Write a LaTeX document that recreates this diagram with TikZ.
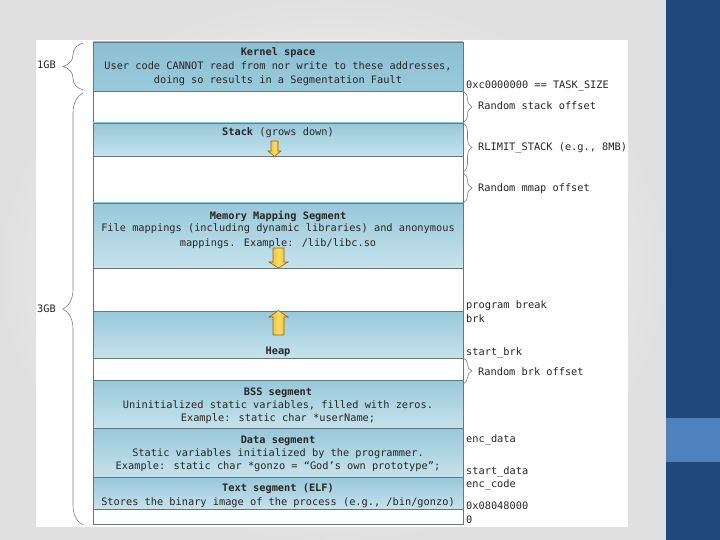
\documentclass[tikz,border=0pt]{standalone}
\usepackage{fontspec}
\newfontfamily\mono{DejaVu Sans Mono}
\usetikzlibrary{decorations.pathreplacing}
\definecolor{slideblue}{HTML}{1F497D}
\definecolor{slidelight}{HTML}{4F81BD}
\definecolor{segtop}{HTML}{98C8DA}
\definecolor{segbot}{HTML}{C6E2EC}
\definecolor{kertop}{HTML}{8BBFD3}
\definecolor{kerbot}{HTML}{9ACADB}
\definecolor{segline}{HTML}{66777D}
\definecolor{arrowfill}{HTML}{F0B010}
\definecolor{arrowlight}{HTML}{FFDC66}
\definecolor{arrowline}{HTML}{8A6A1C}
\tikzset{
  lbl/.style={font=\mono\fontsize{10.3}{13}\selectfont, inner sep=0pt, text=black!85},
  seg/.style={draw=segline, line width=0.8pt, top color=segtop, bottom color=segbot},
  gap/.style={draw=segline, line width=0.8pt, fill=white},
  growarrow/.style={draw=arrowline, line width=0.6pt, left color=arrowfill, right color=arrowfill, middle color=arrowlight},
  bracel/.style={draw=black!50, line width=0.6pt, decorate, decoration={brace, amplitude=20pt}},
  bracer/.style={draw=black!50, line width=0.6pt, decorate, decoration={brace, amplitude=9pt}}
}
\begin{document}
\begin{tikzpicture}[x=1pt,y=-1pt]
\useasboundingbox (0,0) rectangle (720,540);
% slide background
\shade[inner color=white, outer color=black!12] (0,0) rectangle (666,540);
\fill[slideblue] (666,0) rectangle (720,540);
\fill[slidelight] (666,418) rectangle (720,462);
% picture area
\fill[white] (36,40) rectangle (628,527);
% segments
\shade[draw=segline, line width=0.8pt, top color=kertop, bottom color=kerbot] (93,42) rectangle (463,91);
\draw[gap] (93,91) rectangle (463,123);
\draw[seg] (93,123) rectangle (463,156);
\draw[gap] (93,156) rectangle (463,203);
\draw[seg] (93,203) rectangle (463,268);
\draw[gap] (93,268) rectangle (463,311);
\draw[seg] (93,311) rectangle (463,358);
\draw[gap] (93,358) rectangle (463,380);
\draw[seg] (93,380) rectangle (463,428);
\draw[seg] (93,428) rectangle (463,477);
\draw[seg] (93,477) rectangle (463,509);
\draw[gap] (93,509) rectangle (463,524);
% growth arrows
\draw[growarrow] (271,141) -- (278,141) -- (278,151) -- (281,151) -- (274.5,156.5) -- (268,151) -- (271,151) -- cycle;
\draw[growarrow] (273,248) -- (284,248) -- (284,262) -- (288,262) -- (278.5,268) -- (269,262) -- (273,262) -- cycle;
\draw[growarrow] (273,335) -- (284,335) -- (284,317) -- (288,317) -- (278.5,310.5) -- (269,317) -- (273,317) -- cycle;
% segment texts
\node[lbl, anchor=base] (kt) at (278,56) {\textbf{Kernel space}};
\node[lbl, anchor=base] (k1) at (278,70) {User code CANNOT read from nor write to these addresses,};
\node[lbl, anchor=base] (k2) at (278,84) {doing so results in a Segmentation Fault};
\node[lbl, anchor=base] (st) at (278,136) {\textbf{Stack} (grows down)};
\node[lbl, anchor=base] (mt) at (278,219) {\textbf{Memory Mapping Segment}};
\node[lbl, anchor=base] (m1) at (278,232) {File mappings (including dynamic libraries) and anonymous};
\node[lbl, anchor=base] (m2) at (278,246) {mappings. Example: /lib/libc.so};
\node[lbl, anchor=base] (ht) at (278,354) {\textbf{Heap}};
\node[lbl, anchor=base] (bt) at (278,395) {\textbf{BSS segment}};
\node[lbl, anchor=base] (b1) at (278,408) {Uninitialized static variables, filled with zeros.};
\node[lbl, anchor=base] (b2) at (278,421) {Example: static char *userName;};
\node[lbl, anchor=base] (dt) at (278,443) {\textbf{Data segment}};
\node[lbl, anchor=base] (d1) at (278,456) {Static variables initialized by the programmer.};
\node[lbl, anchor=base] (d2) at (278,469) {Example: static char *gonzo = “God’s own prototype”;};
\node[lbl, anchor=base] (tt) at (278,491) {\textbf{Text segment (ELF)}};
\node[lbl, anchor=base] (t1) at (278,505) {Stores the binary image of the process (e.g., /bin/gonzo)};
% left braces
\draw[bracel] (83,90) -- (83,43);
\draw[bracel] (83,525) -- (83,93);
\node[lbl, anchor=base west] (g1) at (37,69) {1GB};
\node[lbl, anchor=base west] (g3) at (37,312) {3GB};
% right braces
\draw[bracer] (463,91) -- (463,123);
\draw[bracer] (463,123) -- (463,172);
\draw[bracer] (463,173) -- (463,203);
\draw[bracer] (463,358) -- (463,384);
% right labels
\node[lbl, anchor=base west] (r0) at (466,89) {0xc0000000 == TASK\_SIZE};
\node[lbl, anchor=base west] (r1) at (478,110) {Random stack offset};
\node[lbl, anchor=base west] (r2) at (478,151) {RLIMIT\_STACK (e.g., 8MB)};
\node[lbl, anchor=base west] (r3) at (478,192) {Random mmap offset};
\node[lbl, anchor=base west] (r4) at (466,308) {program break};
\node[lbl, anchor=base west] (r5) at (466,322) {brk};
\node[lbl, anchor=base west] (r6) at (466,355) {start\_brk};
\node[lbl, anchor=base west] (r7) at (478,375) {Random brk offset};
\node[lbl, anchor=base west] (r8) at (466,442) {enc\_data};
\node[lbl, anchor=base west] (r9) at (466,474) {start\_data};
\node[lbl, anchor=base west] (r10) at (466,487) {enc\_code};
\node[lbl, anchor=base west] (r11) at (466,509) {0x08048000};
\node[lbl, anchor=base west] (r12) at (466,523) {0};
\end{tikzpicture}
\end{document}
